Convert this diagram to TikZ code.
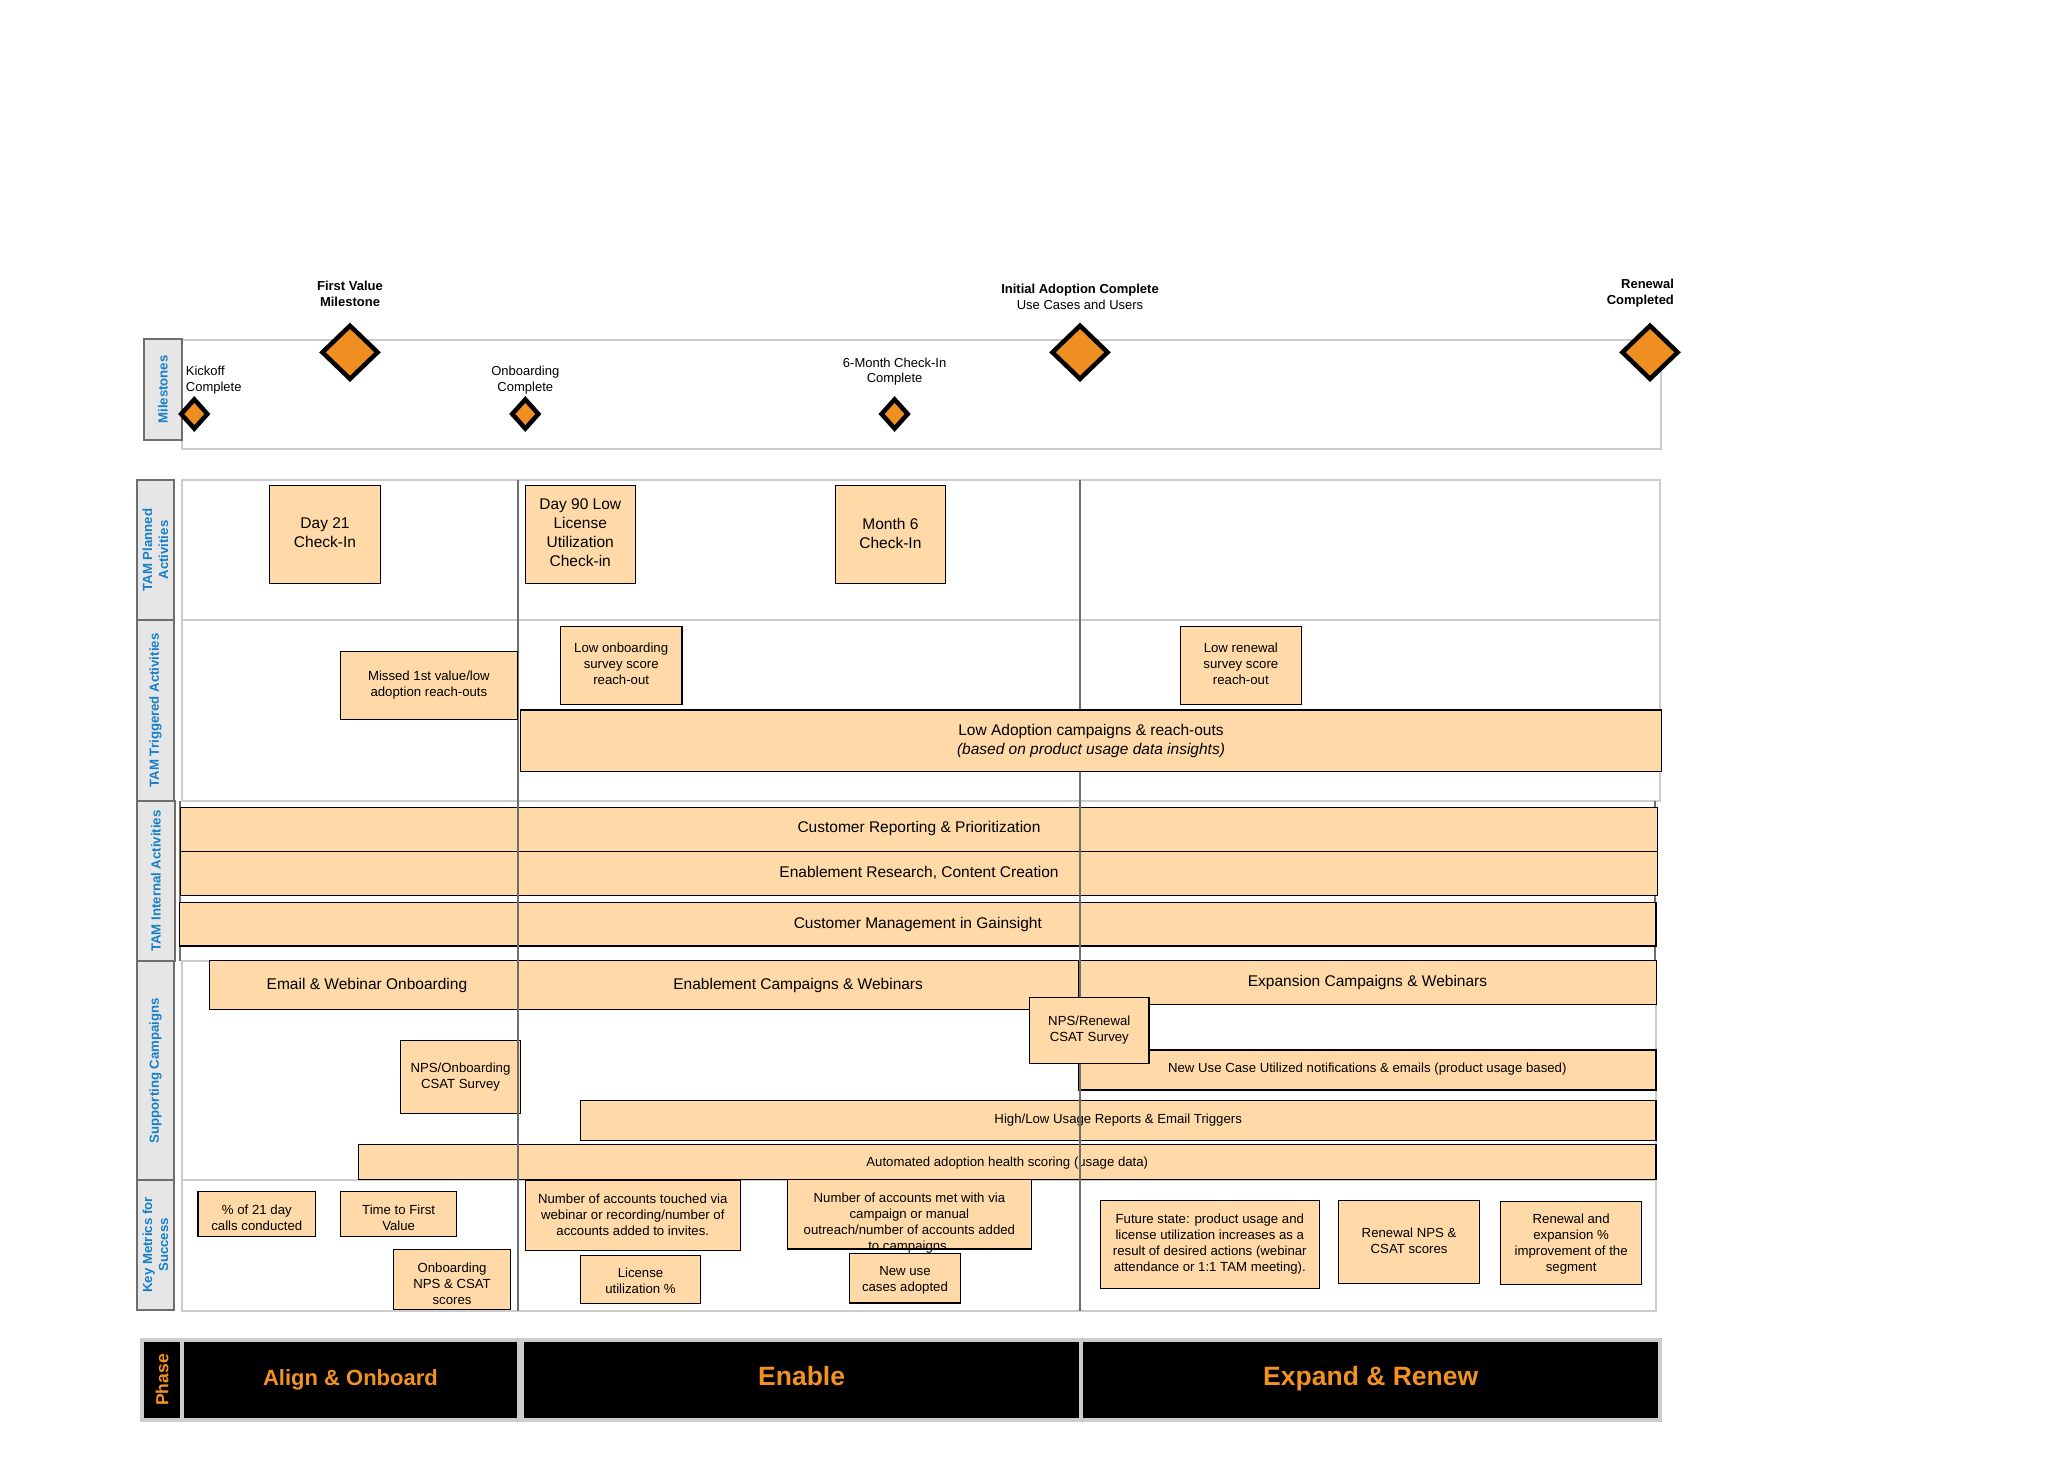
\documentclass[tikz,border=0pt]{standalone}
\usepackage{fontspec}
\setmainfont{Liberation Sans}
\usetikzlibrary{shapes.geometric,calc}

\definecolor{peach}{RGB}{255,218,168}
\definecolor{mileorange}{RGB}{239,143,34}
\definecolor{phaseorange}{RGB}{242,146,34}
\definecolor{lanegray}{RGB}{204,204,204}
\definecolor{headfill}{RGB}{230,230,230}
\definecolor{headline}{RGB}{110,110,110}
\definecolor{headblue}{RGB}{22,127,199}

% text sizes (1 unit = 0.5pt)
\newcommand{\txtS}{\fontsize{6.6pt}{8pt}\selectfont}
\newcommand{\txtB}{\fontsize{7.75pt}{9.5pt}\selectfont}
\newcommand{\txtM}{\fontsize{6.5pt}{7.9pt}\selectfont}
\newcommand{\txtH}{\bfseries\fontsize{6.6pt}{8pt}\selectfont}
\newcommand{\txtPa}{\bfseries\fontsize{11pt}{13pt}\selectfont}
\newcommand{\txtPb}{\bfseries\fontsize{13.25pt}{15pt}\selectfont}
\newcommand{\txtPh}{\bfseries\fontsize{8.75pt}{10pt}\selectfont}

% rectangle node from two corners: [style]{name}{x1}{y1}{x2}{y2}{text}
\newcommand{\boxat}[7][box]{%
  \pgfmathsetmacro{\bxcx}{(#3+#5)/2}%
  \pgfmathsetmacro{\bxcy}{(#4+#6)/2}%
  \pgfmathsetmacro{\bxw}{(#5-#3)*0.5}%
  \pgfmathsetmacro{\bxh}{(#6-#4)*0.5}%
  \node[#1, minimum width=\bxw pt, minimum height=\bxh pt] (#2) at (\bxcx,\bxcy) {#7};}

% same, with the text set off-centre: [style]{name}{x1}{y1}{x2}{y2}{dx}{dy}{text}
\newcommand{\boxtx}[9][box]{%
  \boxat[#1]{#2}{#3}{#4}{#5}{#6}{}%
  \node[#1, draw=none, fill=none] (#2T) at ($(#2.center)+(#7,#8)$) {#9};}

\tikzset{
  box/.style={rectangle, draw=black, line width=0.65pt, fill=peach, inner sep=0pt, align=center, font=\txtS},
  bigbox/.style={box, font=\txtB},
  lane/.style={rectangle, draw=lanegray, line width=1pt, inner sep=0pt},
  head/.style={rectangle, draw=headline, fill=headfill, line width=1pt, inner sep=0pt},
  headtxt/.style={text=headblue, font=\txtH, rotate=90, align=center, inner sep=0pt},
  mileS/.style={diamond, draw=black, fill=mileorange, line width=2.25pt, inner sep=0pt, minimum width=14pt, minimum height=15.5pt},
  mileL/.style={diamond, draw=black, fill=mileorange, line width=2.25pt, inner sep=0pt, minimum width=28.5pt, minimum height=27.5pt},
  miletxt/.style={font=\txtM, align=center, inner sep=0pt},
  divider/.style={draw=headline, line width=1pt},
  phaseframe/.style={rectangle, fill=lanegray, inner sep=0pt},
  phasebox/.style={rectangle, fill=black, text=phaseorange, inner sep=0pt, text height=0.74em, text depth=0.21em}
}

\begin{document}
\begin{tikzpicture}[x=0.5pt,y=-0.5pt]
\fill[white] (0,0) rectangle (2060,1460);
\useasboundingbox (0,0) rectangle (2060,1460);

% ---------------- milestones ----------------
\boxat[lane]{msLane}{182}{340}{1661}{448.7}{}
\boxat[head]{msHead}{143.8}{339}{182}{440}{}
\node[headtxt] (msHeadT) at (msHead.center) {Milestones};

\node[mileS] (dKick)  at (194.3,414) {};
\node[mileL] (dFirst) at (350,352.3) {};
\node[mileS] (dOnb)   at (525.3,414) {};
\node[mileS] (dSix)   at (894.6,414) {};
\node[mileL] (dInit)  at (1080,352.3) {};
\node[mileL] (dRenew) at (1650,352.3) {};

\node[miletxt, anchor=west, align=left] (tKick) at (185.5,380.3) {Kickoff\\Complete};
\node[miletxt, font={\txtM\bfseries}] (tFirst) at (350,293.7) {First Value\\Milestone};
\node[miletxt] (tOnb) at (525.3,380.3) {Onboarding\\Complete};
\node[miletxt] (tSix) at (894.6,371.6) {6-Month Check-In\\Complete};
\node[miletxt] (tInit) at (1080,296.5) {\textbf{Initial Adoption Complete}\\Use Cases and Users};
\node[miletxt, anchor=east, align=right, font={\txtM\bfseries}] (tRenew) at (1674.3,293.3) {Renewal\\Completed};

% ---------------- swimlane frames ----------------
\boxat[lane]{plLane}{181.7}{480}{1660}{620}{}
\boxat[lane]{trLane}{181.7}{620}{1660}{801}{}
\boxat[lane]{spLane}{181.7}{961}{1656}{1180}{}
\boxat[lane]{kmLane}{182.4}{1180}{1656}{1310.5}{}

\boxat[head]{plHead}{136.9}{480}{174}{620}{}
\boxat[head]{trHead}{136.9}{620}{174}{801}{}
\boxat[head]{inHead}{136.9}{801}{175}{961}{}
\boxat[head]{spHead}{136.9}{961}{174}{1180}{}
\boxat[head]{kmHead}{136.9}{1180}{174}{1310}{}
\node[headtxt] (plHeadT) at (plHead.center) {TAM Planned\\Activities};
\node[headtxt] (trHeadT) at (trHead.center) {TAM Triggered Activities};
\node[headtxt] (inHeadT) at (inHead.center) {TAM Internal Activities};
\node[headtxt] (spHeadT) at (spHead.center) {Supporting Campaigns};
\node[headtxt] (kmHeadT) at (kmHead.center) {Key Metrics for\\Success};

% ---------------- TAM internal activities ----------------
\coordinate (inL1) at (179.7,801);  \coordinate (inL2) at (179.7,961);
\coordinate (inR1) at (1655.3,801); \coordinate (inR2) at (1655.3,961);
\draw[divider] (inL1) -- (inL2);
\draw[divider] (inR1) -- (inR2);
\boxtx[bigbox]{inRep}{180.5}{807.3}{1657.5}{851.3}{0}{-1.3}{Customer Reporting \& Prioritization}
\boxat[bigbox]{inEnab}{180.5}{851.3}{1657.5}{895.3}{Enablement Research, Content Creation}
\boxat[bigbox]{inGain}{179.7}{902.3}{1656}{946}{Customer Management in Gainsight}

% ---------------- supporting campaigns ----------------
\boxtx[bigbox]{spEmail}{209.2}{960.7}{517.7}{1009.3}{3.5}{0}{Email \& Webinar Onboarding}
\boxat[bigbox]{spEnab}{517.7}{960.7}{1078.6}{1009.3}{Enablement Campaigns \& Webinars}
\boxat[bigbox]{spExp}{1078.6}{960.3}{1656.4}{1004.3}{Expansion Campaigns \& Webinars}
\boxtx{spNew}{1078.6}{1050}{1656}{1090}{0}{-1.3}{New Use Case Utilized notifications \& emails (product usage based)}
\boxat{spHL}{580.4}{1100.3}{1656}{1140.3}{High/Low Usage Reports \& Email Triggers}
\boxtx{spAuto}{358.5}{1144.7}{1656}{1179.3}{0}{1.3}{Automated adoption health scoring (usage data)}
\boxat{spNpsO}{400.6}{1040.3}{520.4}{1113.3}{NPS/Onboarding\\CSAT Survey}

% ---------------- key metrics ----------------
\boxtx{kmCalls}{198.1}{1191.3}{315.6}{1236.7}{0}{4}{\% of 21 day\\calls conducted}
\boxtx{kmTtfv}{340.5}{1191.3}{456.8}{1236.7}{0}{4}{Time to First\\Value}
\boxtx{kmOnbNps}{393.3}{1249.3}{510.8}{1309.3}{0}{4}{Onboarding\\NPS \& CSAT\\scores}
\boxat{kmTouch}{525.3}{1180}{740.2}{1250.3}{Number of accounts touched via\\webinar or recording/number of\\accounts added to invites.}
\boxtx{kmLic}{580.4}{1255.7}{700.6}{1303.7}{0}{1.3}{License\\utilization \%}
\boxtx{kmMet}{787.5}{1179.7}{1031.3}{1249}{0}{8.3}{Number of accounts met with via\\campaign or manual\\outreach/number of accounts added\\to campaigns.}
\boxtx{kmNewUse}{849.6}{1253.3}{960.3}{1303}{0}{2.6}{New use\\cases adopted}
\boxat{kmFuture}{1100.3}{1200.3}{1319.3}{1288.3}{Future state: product usage and\\license utilization increases as a\\result of desired actions (webinar\\attendance or 1:1 TAM meeting).}
\boxtx{kmRenNps}{1338.6}{1200.3}{1479.5}{1283.3}{0}{-1.3}{Renewal NPS \&\\CSAT scores}
\boxtx{kmRenExp}{1500.7}{1201.3}{1641.6}{1284.7}{0}{1.3}{Renewal and\\expansion \%\\improvement of the\\segment}

% ---------------- phase dividers ----------------
\coordinate (dvAt) at (517.7,480);  \coordinate (dvAb) at (517.7,1310.5);
\coordinate (dvBt) at (1080,480);   \coordinate (dvBb) at (1080,1310.5);
\draw[divider] (dvAt) -- (dvAb);
\draw[divider] (dvBt) -- (dvBb);

% ---------------- TAM planned / triggered activities ----------------
\boxtx[bigbox]{plDay21}{269.3}{485.3}{380.7}{583.3}{0}{-1.3}{Day 21\\Check-In}
\boxtx[bigbox]{plDay90}{525.3}{485.3}{635.2}{583.3}{0}{-1.3}{Day 90 Low\\License\\Utilization\\Check-in}
\boxtx[bigbox]{plMonth6}{835.3}{485.3}{945.5}{583.3}{0}{-1.3}{Month 6\\Check-In}
\boxat{trMissed}{340.5}{651.7}{517.3}{719.3}{Missed 1st value/low\\adoption reach-outs}
\boxtx{trLowOnb}{560.5}{626.3}{681.9}{704.3}{0}{-1.3}{Low onboarding\\survey score\\reach-out}
\boxtx{trLowRen}{1180.4}{626.3}{1301.3}{704.3}{0}{-1.3}{Low renewal\\survey score\\reach-out}
\boxat[bigbox]{trLowAdopt}{520.4}{710}{1661.6}{771.7}{Low Adoption campaigns \& reach-outs\\\textit{(based on product usage data insights)}}
\boxat{spNpsR}{1029.5}{997.3}{1149.1}{1063.3}{NPS/Renewal\\CSAT Survey}

% ---------------- phase bar ----------------
\boxat[phaseframe]{phFrame}{140}{1338.3}{1662}{1421.7}{}
\boxat[phasebox]{phHead}{144.2}{1342.3}{179.8}{1417.7}{}
\node[text=phaseorange, font=\txtPh, rotate=90, inner sep=0pt] (phHeadT) at (phHead.center) {Phase};
\boxat[phasebox, font=\txtPa]{phAlign}{184}{1342.3}{516.9}{1417.7}{Align \& Onboard}
\boxat[phasebox, font=\txtPb]{phEnable}{524.2}{1342.3}{1079}{1417.7}{Enable}
\boxat[phasebox, font=\txtPb]{phExpand}{1083.2}{1342.3}{1658.2}{1417.7}{Expand \& Renew}
\end{tikzpicture}
\end{document}
